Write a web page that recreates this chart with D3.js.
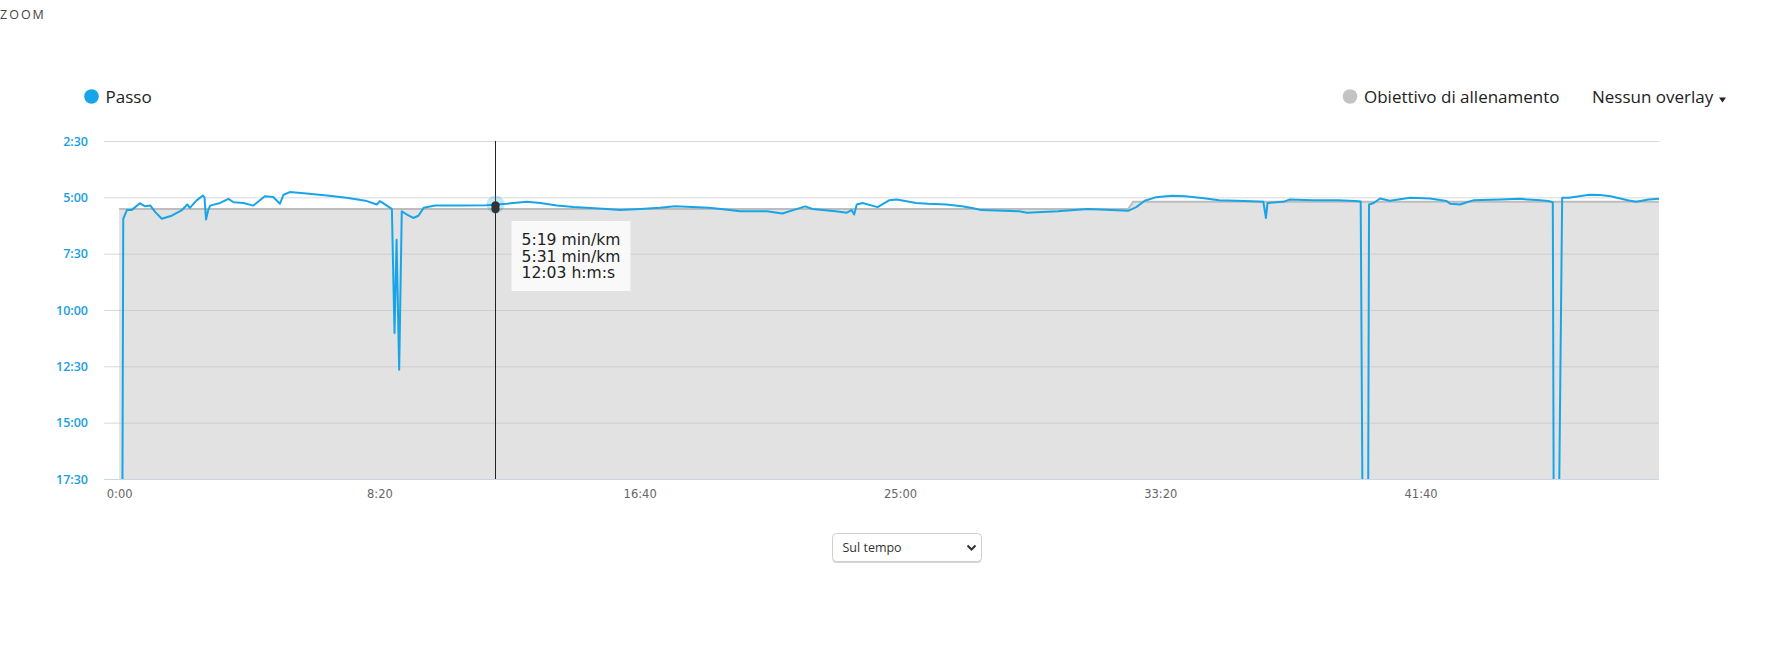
<!DOCTYPE html>
<html>
<head>
<meta charset="utf-8">
<script src="https://cdn.jsdelivr.net/npm/d3@7"></script>
<style>
  body { margin: 0; background: #fff; }
  svg { display: block; font-family: "Open Sans", sans-serif; }
</style>
</head>
<body>
<div id="chart"></div>
<script>
// Pace samples: elapsed seconds and pace in seconds per km (stops fall off the bottom)
const paceTime = [0, 6, 8, 15, 24, 40, 50, 60, 70, 82, 101, 120, 131, 136, 149, 161, 164, 167, 171, 175,
  194, 210, 220, 239, 258, 280, 296, 309, 316, 328, 360, 399, 437, 476, 495, 501, 521, 524, 529, 533,
  538, 543, 553, 565, 575, 585, 607, 655, 706, 723, 745, 783, 809, 841, 873, 937, 962, 1001, 1039, 1068,
  1133, 1156, 1193, 1244, 1274, 1295, 1318, 1332, 1376, 1398, 1407, 1412, 1417, 1428, 1457, 1479, 1494, 1531, 1553, 1589,
  1619, 1641, 1656, 1729, 1744, 1803, 1861, 1906, 1938, 1954, 1970, 1991, 2023, 2048, 2080, 2113, 2162, 2198, 2203, 2206,
  2236, 2248, 2293, 2342, 2374, 2385, 2389, 2399, 2401, 2410, 2422, 2441, 2480, 2518, 2550, 2557, 2576, 2589, 2601, 2653,
  2691, 2730, 2745, 2754, 2756, 2765, 2772, 2785, 2805, 2824, 2845, 2865, 2898, 2914, 2938, 2958];
const paceSec = [1250, 1250, 357, 334, 334, 316, 324, 322, 340, 357, 349, 335, 319, 328, 308, 295, 300, 359, 335, 322,
  315, 304, 313, 315, 322, 297, 299, 317, 293, 286, 290, 295, 301, 310, 319, 310, 328, 331, 661, 413,
  759, 337, 346, 355, 349, 328, 322, 322, 321, 319, 317, 312, 315, 322, 326, 331, 334, 331, 328, 324,
  328, 331, 337, 337, 343, 334, 324, 331, 337, 341, 334, 346, 319, 315, 326, 308, 306, 315, 317, 319,
  324, 329, 334, 337, 341, 337, 331, 334, 336, 326, 309, 300, 296, 297, 302, 308, 310, 312, 355, 315,
  312, 306, 308, 308, 310, 311, 1250, 1250, 319, 315, 303, 309, 301, 303, 310, 317, 319, 313, 308, 306,
  304, 308, 310, 313, 1250, 1250, 301, 301, 297, 293, 294, 297, 308, 312, 306, 304];

// Training target (seconds per km)
const targetTime = [0, 1938, 1948, 2958];
const targetSec = [331, 331, 312, 312];

const xTicks = [0, 500, 1000, 1500, 2000, 2500];
const yTicks = [150, 300, 450, 600, 750, 900, 1050];

// hovered point
const hoverTime = 723;
const hoverPace = 319;
const hoverTarget = 331;

const W = 1767, H = 657;
const plot = {left: 104, right: 1659, top: 141, bottom: 479};
const blue = "#18a5e8";

const svg = d3.select("#chart").append("svg")
  .attr("width", W)
  .attr("height", H);

const x = d3.scaleLinear().domain([-29, 2958]).range([plot.left, plot.right]);
const y = d3.scaleLinear().domain([150, 1050]).range([plot.top, plot.bottom]);

const fmt = s => Math.floor(s / 60) + ":" + String(Math.round(s % 60)).padStart(2, "0");

// ZOOM label
svg.append("text")
  .attr("x", 0)
  .attr("y", 18.5)
  .attr("fill", "#444")
  .style("font-size", "12.5px")
  .style("letter-spacing", "2px")
  .text("ZOOM");

// Grid + y axis
svg.append("g")
  .attr("class", "y axis")
  .attr("transform", `translate(${plot.left},0)`)
  .call(d3.axisLeft(y)
    .tickValues(yTicks)
    .tickSize(-(plot.right - plot.left))
    .tickPadding(16)
    .tickFormat(fmt))
  .call(g => g.select(".domain").remove())
  .call(g => g.selectAll("line").attr("stroke", "#d9d9d9"))
  .call(g => g.selectAll("text")
    .attr("fill", "#1a9ee0")
    .style("font-family", "Open Sans")
    .style("font-size", "12.5px")
    .style("font-weight", 600));

// Target area and line
const target = targetTime.map((t, i) => ({t: t, v: targetSec[i]}));

svg.append("path")
  .datum(target)
  .attr("fill", "rgba(190,190,190,0.45)")
  .attr("d", d3.area().x(d => x(d.t)).y0(y(1050)).y1(d => y(d.v)));

svg.append("path")
  .datum(target)
  .attr("fill", "none")
  .attr("stroke", "#bdbdbd")
  .attr("stroke-width", 2)
  .attr("d", d3.line().x(d => x(d.t)).y(d => y(d.v)));

// Pace line, clipped to the plot
svg.append("clipPath").attr("id", "clip")
  .append("rect")
  .attr("x", plot.left).attr("y", plot.top)
  .attr("width", plot.right - plot.left).attr("height", plot.bottom - plot.top);

const pace = paceTime.map((t, i) => ({t: t, v: paceSec[i]}));

svg.append("path")
  .datum(pace)
  .attr("clip-path", "url(#clip)")
  .attr("fill", "none")
  .attr("stroke", blue)
  .attr("stroke-width", 2)
  .attr("stroke-linejoin", "round")
  .attr("d", d3.line().x(d => x(d.t)).y(d => y(d.v)));

// x axis
svg.append("g")
  .attr("class", "x axis")
  .attr("transform", `translate(0,${plot.bottom})`)
  .call(d3.axisBottom(x).tickValues(xTicks).tickSize(0).tickPadding(11).tickFormat(fmt))
  .call(g => g.select(".domain").attr("stroke", "#ccd6eb").attr("d", `M${plot.left},0.5H${plot.right}`))
  .call(g => g.selectAll("text")
    .attr("fill", "#666")
    .style("font-family", "DejaVu Sans")
    .style("font-size", "11.5px"));

// Crosshair + markers
const hx = Math.round(x(hoverTime)) + 0.5;
svg.append("line")
  .attr("x1", hx).attr("x2", hx)
  .attr("y1", plot.top).attr("y2", plot.bottom)
  .attr("stroke", "#222")
  .attr("stroke-width", 1);

svg.append("circle")
  .attr("cx", hx).attr("cy", y(hoverPace))
  .attr("r", 9)
  .attr("fill", "rgba(24,165,232,0.25)");

svg.append("circle")
  .attr("cx", hx).attr("cy", y(hoverPace) + 1)
  .attr("r", 4.2)
  .attr("fill", "#333");

svg.append("circle")
  .attr("cx", hx).attr("cy", y(hoverTarget))
  .attr("r", 4.2)
  .attr("fill", "#333");

// Tooltip
const tip = svg.append("g").attr("transform", `translate(${hx + 16},221)`);
tip.append("rect")
  .attr("width", 119)
  .attr("height", 70)
  .attr("fill", "rgba(251,251,251,0.92)");

tip.selectAll("text")
  .data([fmt(hoverPace) + " min/km", fmt(hoverTarget) + " min/km", fmt(hoverTime) + " h:m:s"])
  .enter()
  .append("text")
  .attr("x", 10)
  .attr("y", (d, i) => 24 + i * 16.7)
  .attr("fill", "#222")
  .style("font-family", "DejaVu Sans")
  .style("font-size", "15.6px")
  .text(d => d);

// Legend
svg.append("circle").attr("cx", 91.5).attr("cy", 96.5).attr("r", 7.3).attr("fill", blue);
svg.append("text").attr("x", 105.5).attr("y", 103).attr("fill", "#222")
  .style("font-size", "17px").text("Passo");

svg.append("circle").attr("cx", 1350).attr("cy", 96.5).attr("r", 7.3).attr("fill", "#c3c3c3");
svg.append("text").attr("x", 1364).attr("y", 103).attr("fill", "#222")
  .style("font-size", "17px").text("Obiettivo di allenamento");

svg.append("text").attr("x", 1592).attr("y", 103).attr("fill", "#222")
  .style("font-size", "17px").text("Nessun overlay");
svg.append("path").attr("d", "M1719,97.5h7l-3.5,5z").attr("fill", "#222");

// Select box
const sel = svg.append("g").attr("transform", "translate(832.5,533.5)");
sel.append("rect")
  .attr("x", 0).attr("y", 1.5)
  .attr("width", 149).attr("height", 28).attr("rx", 4)
  .attr("fill", "#d6d6d6");
sel.append("rect")
  .attr("width", 149).attr("height", 28).attr("rx", 4)
  .attr("fill", "#fff")
  .attr("stroke", "#cfcfcf");
sel.append("text")
  .attr("x", 10).attr("y", 18.5)
  .attr("fill", "#333")
  .style("font-size", "12.5px")
  .text("Sul tempo");
sel.append("path")
  .attr("d", "M135,12l4,4l4,-4")
  .attr("fill", "none")
  .attr("stroke", "#333")
  .attr("stroke-width", 2);
</script>
</body>
</html>
